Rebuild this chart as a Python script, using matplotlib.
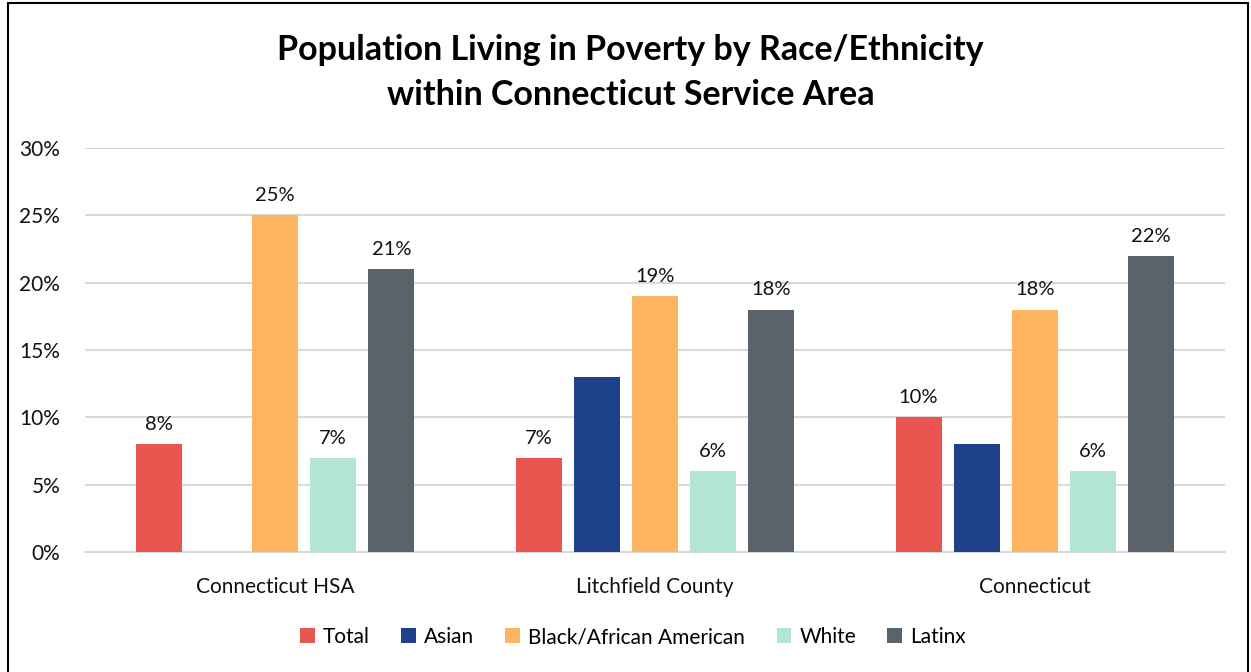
import numpy as np
import matplotlib.pyplot as plt
from matplotlib.patches import Rectangle

plt.rcParams['font.family'] = ['Lato', 'DejaVu Sans']

# poverty rates (%) by area and race/ethnicity
areas = ["Connecticut HSA", "Litchfield County", "Connecticut"]
groups = ["Total", "Asian", "Black/African American", "White", "Latinx"]
total = [8, 7, 10]
asian = [np.nan, 13, 8]
black = [25, 19, 18]
white = [7, 6, 6]
latinx = [21, 18, 22]
show_labels = [True, False, True, True, True]

colors = ["#E9554F", "#1F418A", "#FFB45F", "#B3E5D7", "#5A636C"]

fig = plt.figure(figsize=(12.51, 6.72), dpi=100)
ax = fig.add_axes([0.068, 0.1786, 0.911, 0.6012])

x = np.arange(len(areas))
width = 0.121
step = 0.153
series = [total, asian, black, white, latinx]

for i, (vals, name, col) in enumerate(zip(series, groups, colors)):
    pos = x + (i - 2) * step
    ax.bar(pos, vals, width, color=col, label=name, zorder=3)
    if show_labels[i]:
        for p, v in zip(pos, vals):
            if np.isnan(v):
                continue
            ax.annotate(f"{v:.0f}%", (p, v), xytext=(0, 8), textcoords="offset points",
                        ha="center", va="bottom", fontsize=14.5, color="#111111")

ax.set_ylim(0, 30)
ax.set_xlim(-0.5, 2.5)
ax.set_yticks(range(0, 31, 5))
ax.set_yticklabels([f"{t}%" for t in range(0, 31, 5)])
ax.set_xticks(x)
ax.set_xticklabels(areas)
ax.tick_params(axis="both", length=0, labelsize=15, colors="#111111")
ax.tick_params(axis="x", pad=18)
ax.tick_params(axis="y", pad=18)
ax.grid(axis="y", color="#D9D9D9", linewidth=1.5, zorder=0)
for s in ["top", "right", "left"]:
    ax.spines[s].set_visible(False)
ax.spines["bottom"].set_color("#D9D9D9")
ax.spines["bottom"].set_linewidth(1.5)

fig.text(0.504, 0.925, "Population Living in Poverty by Race/Ethnicity",
         ha="center", va="center", fontsize=24.5, fontweight="bold")
fig.text(0.504, 0.858, "within Connecticut Service Area",
         ha="center", va="center", fontsize=24.5, fontweight="bold")

fig.legend(loc="center", bbox_to_anchor=(0.506, 0.052), ncol=5, frameon=False,
           fontsize=15, handlelength=0.7, handleheight=0.7, handletextpad=0.4,
           columnspacing=1.5)

# outer frame
fig.patches.append(Rectangle((0.0065, -0.01), 0.991, 1.005, transform=fig.transFigure,
                             fill=False, edgecolor="black", linewidth=1.5))

fig.savefig("out.png", dpi=100)
